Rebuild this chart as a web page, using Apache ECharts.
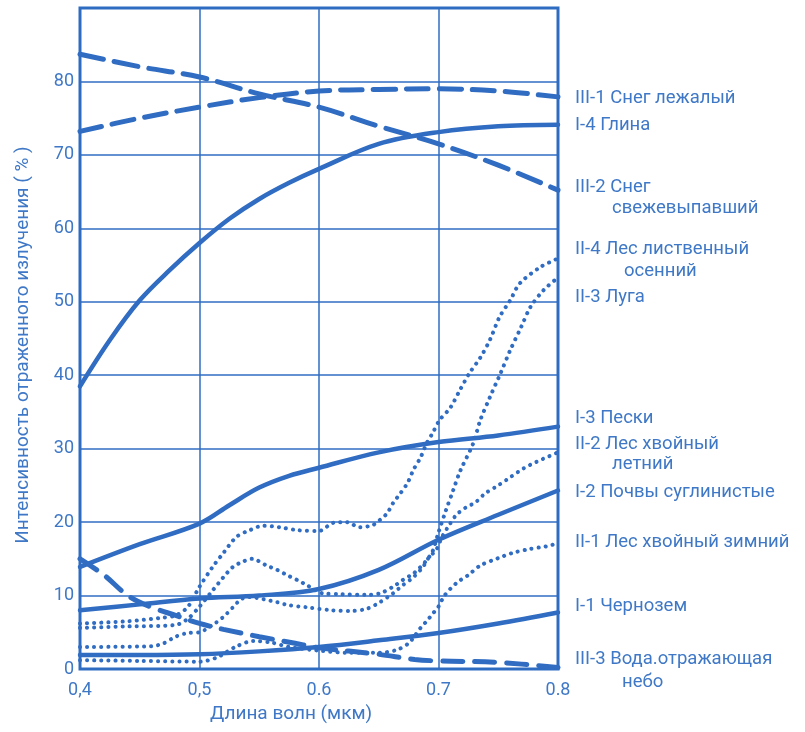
<!DOCTYPE html>
<html><head><meta charset="utf-8">
<script src="https://cdn.jsdelivr.net/npm/echarts@6/dist/echarts.min.js"></script>
<style>html,body{margin:0;padding:0;background:#fff;}#c{width:805px;height:732px;}</style>
</head><body><div id="c"></div>
<script>
// ---- tick labels ----
var xTickLabels = ['0,4', '0,5', '0.6', '0.7', '0.8'];
var yTickLabels = ['0', '10', '20', '30', '40', '50', '60', '70', '80', ''];

// ---- series data (x = wavelength, µm; y = reflectance, %) ----
var snowOldX = [0.4, 0.45, 0.5, 0.55, 0.6, 0.65, 0.7, 0.75, 0.8];
var snowOldY = [73.2, 75.0, 76.5, 77.8, 78.7, 78.9, 79.0, 78.7, 77.9];

var snowFreshX = [0.4, 0.45, 0.5, 0.55, 0.6, 0.65, 0.7, 0.75, 0.8];
var snowFreshY = [83.7, 82.0, 80.6, 78.3, 76.5, 73.9, 71.5, 68.6, 65.2];

var clayX = [0.4, 0.425, 0.45, 0.475, 0.5, 0.525, 0.55, 0.575, 0.6, 0.65, 0.7, 0.75, 0.8];
var clayY = [38.5, 44.8, 50.2, 54.3, 58.0, 61.3, 64.0, 66.2, 68.1, 71.5, 73.1, 73.9, 74.1];

var sandX = [0.4, 0.45, 0.5, 0.525, 0.55, 0.575, 0.6, 0.65, 0.7, 0.75, 0.8];
var sandY = [13.9, 17.0, 19.8, 22.3, 24.7, 26.3, 27.4, 29.5, 30.9, 31.8, 33.0];

var loamX = [0.4, 0.45, 0.5, 0.55, 0.6, 0.65, 0.7, 0.75, 0.8];
var loamY = [8.0, 8.8, 9.6, 10.0, 10.9, 13.5, 17.6, 21.0, 24.3];

var chernozemX = [0.4, 0.45, 0.5, 0.55, 0.6, 0.65, 0.7, 0.75, 0.8];
var chernozemY = [1.9, 1.9, 2.0, 2.4, 3.0, 3.9, 4.9, 6.2, 7.7];

var waterX = [0.4, 0.42, 0.44, 0.46, 0.48, 0.5, 0.52, 0.55, 0.58, 0.6, 0.65, 0.68, 0.7, 0.75, 0.8];
var waterY = [15.0, 12.8, 10.0, 8.4, 7.3, 6.2, 5.4, 4.4, 3.5, 2.9, 2.0, 1.3, 1.1, 0.9, 0.2];

var forestAutumnX = [0.4, 0.44, 0.47, 0.48, 0.49, 0.5, 0.511, 0.52, 0.531, 0.542, 0.553, 0.567, 0.582, 0.6, 0.612, 0.623, 0.634, 0.645, 0.651, 0.657, 0.662, 0.668, 0.674, 0.679, 0.685, 0.69, 0.695, 0.701, 0.71, 0.718, 0.726, 0.735, 0.743, 0.751, 0.76, 0.768, 0.785, 0.8];
var forestAutumnY = [6.2, 6.5, 7.0, 7.3, 8.4, 11.2, 13.9, 15.8, 18.0, 18.9, 19.5, 19.3, 18.9, 18.8, 19.9, 20.0, 19.3, 19.6, 20.3, 21.2, 22.6, 23.9, 25.3, 27.1, 28.8, 30.7, 32.1, 33.9, 35.6, 38.0, 40.3, 42.4, 44.8, 47.9, 50.2, 52.5, 54.7, 55.9];

var meadowX = [0.4, 0.44, 0.48, 0.49, 0.5, 0.511, 0.52, 0.528, 0.536, 0.544, 0.556, 0.565, 0.573, 0.582, 0.59, 0.603, 0.618, 0.64, 0.651, 0.662, 0.67, 0.679, 0.685, 0.69, 0.695, 0.7, 0.706, 0.712, 0.718, 0.729, 0.735, 0.743, 0.752, 0.76, 0.769, 0.777, 0.788, 0.8];
var meadowY = [5.6, 5.8, 6.0, 6.8, 8.5, 10.7, 12.5, 13.9, 14.6, 15.0, 14.1, 13.5, 12.8, 12.1, 11.4, 10.3, 10.2, 10.1, 10.3, 11.2, 12.1, 13.0, 13.9, 14.8, 16.0, 18.6, 21.5, 24.2, 26.9, 30.7, 33.9, 37.0, 40.3, 43.4, 46.5, 49.3, 51.6, 53.3];

var conifSummerX = [0.4, 0.46, 0.47, 0.48, 0.49, 0.5, 0.511, 0.52, 0.528, 0.534, 0.54, 0.565, 0.574, 0.59, 0.61, 0.627, 0.64, 0.65, 0.662, 0.67, 0.679, 0.687, 0.692, 0.698, 0.703, 0.709, 0.715, 0.723, 0.731, 0.739, 0.75, 0.76, 0.771, 0.782, 0.8];
var conifSummerY = [3.0, 3.1, 3.5, 4.4, 4.9, 5.0, 6.0, 7.1, 8.4, 9.4, 9.8, 9.1, 8.7, 8.4, 8.0, 7.9, 8.2, 9.0, 10.3, 11.4, 12.5, 13.9, 15.2, 16.2, 18.0, 19.6, 21.0, 22.0, 22.7, 23.9, 25.0, 26.1, 27.3, 28.2, 29.5];

var conifWinterX = [0.4, 0.45, 0.5, 0.515, 0.53, 0.545, 0.56, 0.575, 0.6, 0.625, 0.65, 0.665, 0.675, 0.68, 0.685, 0.69, 0.695, 0.7, 0.705, 0.715, 0.725, 0.735, 0.75, 0.762, 0.775, 0.79, 0.8];
var conifWinterY = [1.2, 1.1, 1.0, 1.6, 3.0, 3.8, 3.6, 3.0, 2.5, 2.2, 2.2, 2.6, 3.5, 4.5, 5.6, 6.5, 7.5, 8.5, 10.0, 11.7, 12.8, 14.1, 15.1, 15.8, 16.3, 16.7, 17.1];

// ---- right-hand curve labels ----
var labelLines = [
  ['III-1 Снег лежалый', 575, 100],
  ['I-4 Глина', 575, 127],
  ['III-2 Снег', 575, 189],
  ['свежевыпавший', 612, 210],
  ['II-4 Лес лиственный', 575, 251],
  ['осенний', 624, 273],
  ['II-3 Луга', 575, 299],
  ['I-3 Пески', 575, 420],
  ['II-2 Лес хвойный', 575, 446],
  ['летний', 612, 466],
  ['I-2 Почвы суглинистые', 575, 494],
  ['II-1 Лес хвойный зимний', 575, 544],
  ['I-1 Чернозем', 575, 608],
  ['III-3 Вода.отражающая', 575, 661],
  ['небо', 622, 684]
];

var BLUE = '#2f6cc2';
var TXT = '#3f78c6';
var FONT = 'Roboto, "Noto Sans", sans-serif';

function pairs(xs, ys) { return xs.map(function (x, i) { return [x, ys[i]]; }); }

function solid(name, xs, ys) {
  return { name: name, type: 'line', data: pairs(xs, ys), smooth: 0.35, showSymbol: false,
    lineStyle: { color: BLUE, width: 4.5, cap: 'round' } };
}
function dashed(name, xs, ys, dash) {
  return { name: name, type: 'line', data: pairs(xs, ys), smooth: 0.35, showSymbol: false,
    lineStyle: { color: BLUE, width: 5, type: dash, cap: 'round' } };
}
function dotted(name, xs, ys) {
  return { name: name, type: 'line', data: pairs(xs, ys), smooth: 0.3, showSymbol: false,
    lineStyle: { color: BLUE, width: 4, type: [0.1, 7], cap: 'round' } };
}

var graphics = labelLines.map(function (l) {
  return { type: 'text', left: l[1], top: l[2] - 11,
    style: { text: l[0], fill: TXT, font: '18.5px ' + FONT } };
});
graphics.push({ type: 'text', left: 210, top: 705,
  style: { text: 'Длина волн (мкм)', fill: TXT, font: '19px ' + FONT } });
graphics.push({ type: 'text', x: 23, y: 345, rotation: Math.PI / 2,
  style: { text: 'Интенсивность отраженного излучения ( % )', fill: TXT, font: '19px ' + FONT,
    align: 'center', verticalAlign: 'middle' } });

var chart = echarts.init(document.getElementById('c'), null, { renderer: 'canvas' });
chart.setOption({
  animation: false,
  backgroundColor: '#ffffff',
  grid: { left: 80, right: 247, top: 8, bottom: 63, show: true, borderColor: BLUE, borderWidth: 3 },
  xAxis: {
    type: 'value', min: 0.4, max: 0.8, interval: 0.1,
    axisLine: { show: false }, axisTick: { show: false },
    splitLine: { show: true, lineStyle: { color: BLUE, width: 1.5 } },
    axisLabel: { color: TXT, fontSize: 18, fontFamily: FONT, margin: 12,
      formatter: function (v) { return xTickLabels[Math.round((v - 0.4) * 10)]; } }
  },
  yAxis: {
    type: 'value', min: 0, max: 90, interval: 10,
    axisLine: { show: false }, axisTick: { show: false },
    splitLine: { show: true, lineStyle: { color: BLUE, width: 1.5 } },
    axisLabel: { color: TXT, fontSize: 18, fontFamily: FONT, margin: 6,
      formatter: function (v) { return yTickLabels[Math.round(v / 10)]; } }
  },
  graphic: graphics,
  series: [
    dashed('III-1 Снег лежалый', snowOldX, snowOldY, [22, 11]),
    dashed('III-2 Снег свежевыпавший', snowFreshX, snowFreshY, [24, 11]),
    solid('I-4 Глина', clayX, clayY),
    solid('I-3 Пески', sandX, sandY),
    solid('I-2 Почвы суглинистые', loamX, loamY),
    solid('I-1 Чернозем', chernozemX, chernozemY),
    dashed('III-3 Вода, отражающая небо', waterX, waterY, [20, 12]),
    dotted('II-4 Лес лиственный осенний', forestAutumnX, forestAutumnY),
    dotted('II-3 Луга', meadowX, meadowY),
    dotted('II-2 Лес хвойный летний', conifSummerX, conifSummerY),
    dotted('II-1 Лес хвойный зимний', conifWinterX, conifWinterY)
  ]
});
</script>
</body></html>
